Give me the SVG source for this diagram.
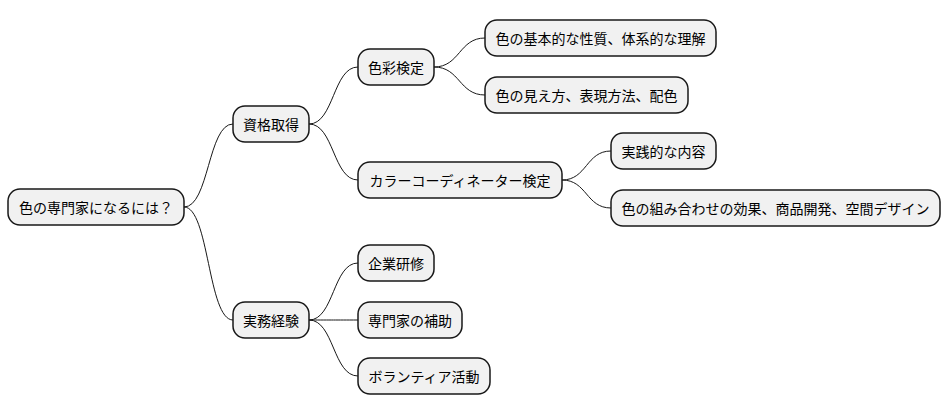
<svg xmlns="http://www.w3.org/2000/svg" width="950" height="415" viewBox="0 0 950 415">
<style>
.n rect{fill:#F1F1F1;stroke:#181818;stroke-width:1.5}
.n text{font-family:"Noto Sans CJK JP","Liberation Sans",sans-serif;font-size:14px;fill:#000;text-anchor:middle;dominant-baseline:central}
#c path{fill:none;stroke:#181818;stroke-width:1}
</style>
<rect width="950" height="415" fill="#fff"/>
<g id="c">
<path d="M184,207 C209,207 208,124 233,124"/>
<path d="M184,207 C209,207 208,320 233,320"/>
<path d="M309,124 C334,124 333,67 358,67"/>
<path d="M309,124 C334,124 333,180 358,180"/>
<path d="M434,67 C460,67 459,38 485,38"/>
<path d="M434,67 C460,67 459,95 485,95"/>
<path d="M562,180 C587,180 586,151 611,151"/>
<path d="M562,180 C587,180 586,208 611,208"/>
<path d="M309,320 C334,320 333,263 358,263"/>
<path d="M309,320 C334,320 333,320 358,320"/>
<path d="M309,320 C334,320 333,376 358,376"/>
</g>
<g id="root" class="n"><rect x="8" y="189" width="176" height="36" rx="12"/><text x="96" y="207">色の専門家になるには？</text></g>
<g id="n1" class="n"><rect x="233" y="106" width="76" height="36" rx="12"/><text x="271" y="124">資格取得</text></g>
<g id="n2" class="n"><rect x="233" y="302" width="76" height="36" rx="12"/><text x="271" y="320">実務経験</text></g>
<g id="n3" class="n"><rect x="358" y="49" width="76" height="36" rx="12"/><text x="396" y="67">色彩検定</text></g>
<g id="n4" class="n"><rect x="358" y="162" width="204" height="36" rx="12"/><text x="460" y="180">カラーコーディネーター検定</text></g>
<g id="n5" class="n"><rect x="485" y="20" width="231" height="36" rx="12"/><text x="600.5" y="38">色の基本的な性質、体系的な理解</text></g>
<g id="n6" class="n"><rect x="485" y="77" width="203" height="36" rx="12"/><text x="586.5" y="95">色の見え方、表現方法、配色</text></g>
<g id="n7" class="n"><rect x="611" y="133" width="105" height="36" rx="12"/><text x="663.5" y="151">実践的な内容</text></g>
<g id="n8" class="n"><rect x="611" y="190" width="329" height="36" rx="12"/><text x="775.5" y="208">色の組み合わせの効果、商品開発、空間デザイン</text></g>
<g id="n9" class="n"><rect x="358" y="245" width="76" height="36" rx="12"/><text x="396" y="263">企業研修</text></g>
<g id="n10" class="n"><rect x="358" y="302" width="104" height="36" rx="12"/><text x="410" y="320">専門家の補助</text></g>
<g id="n11" class="n"><rect x="358" y="358" width="132" height="36" rx="12"/><text x="424" y="376">ボランティア活動</text></g>
</svg>
